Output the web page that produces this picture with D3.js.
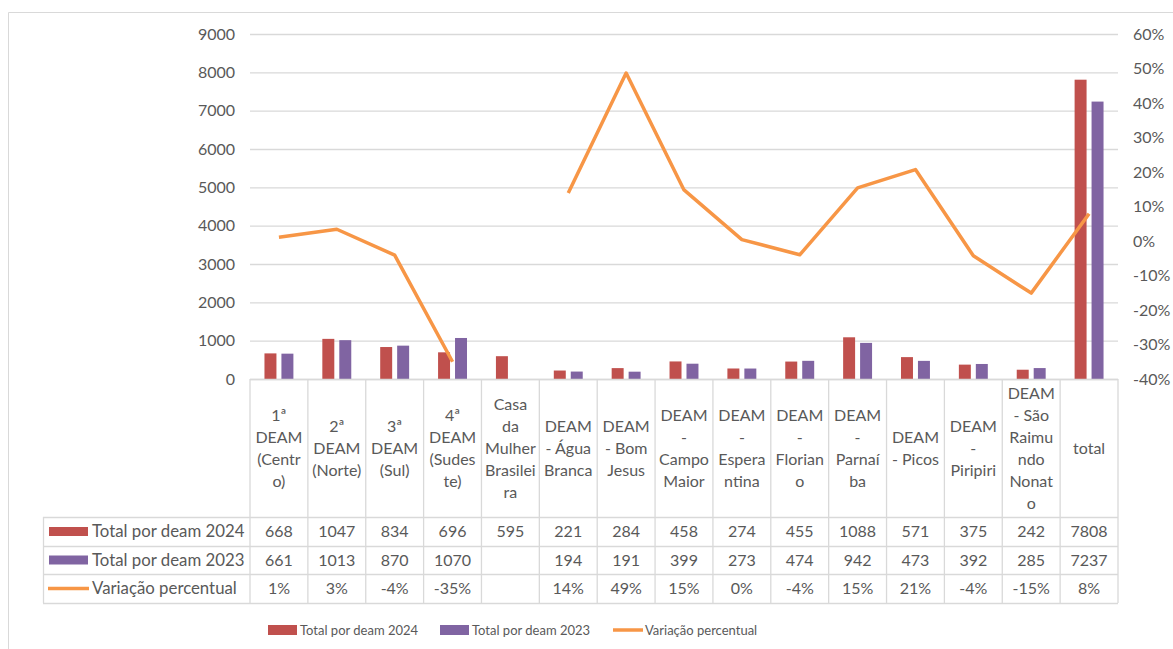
<!DOCTYPE html>
<html>
<head>
<meta charset="utf-8">
<script src="https://cdn.jsdelivr.net/npm/d3@7"></script>
<style>
  html, body { margin: 0; padding: 0; background: #fff; }
  svg { display: block; }
  text { font-family: Lato, "Open Sans", sans-serif; fill: #595959; }
</style>
</head>
<body>
<svg id="chart" width="1173" height="649"></svg>
<script>
// ---------- DATA ----------
const categories = [
  "1ª DEAM (Centro)", "2ª DEAM (Norte)", "3ª DEAM (Sul)", "4ª DEAM (Sudeste)",
  "Casa da Mulher Brasileira", "DEAM - Água Branca", "DEAM - Bom Jesus",
  "DEAM - Campo Maior", "DEAM - Esperantina", "DEAM - Floriano",
  "DEAM - Parnaíba", "DEAM - Picos", "DEAM - Piripiri",
  "DEAM - São Raimundo Nonato", "total"
];
const headerLines = [
  ["1ª","DEAM","(Centr","o)"],
  ["2ª","DEAM","(Norte)"],
  ["3ª","DEAM","(Sul)"],
  ["4ª","DEAM","(Sudes","te)"],
  ["Casa","da","Mulher","Brasilei","ra"],
  ["DEAM","- Água","Branca"],
  ["DEAM","- Bom","Jesus"],
  ["DEAM","-","Campo","Maior"],
  ["DEAM","-","Espera","ntina"],
  ["DEAM","-","Florian","o"],
  ["DEAM","-","Parnaí","ba"],
  ["DEAM","- Picos"],
  ["DEAM","-","Piripiri"],
  ["DEAM","- São","Raimu","ndo","Nonat","o"],
  ["total"]
];
const total2024 = [668, 1047, 834, 696, 595, 221, 284, 458, 274, 455, 1088, 571, 375, 242, 7808];
const total2023 = [661, 1013, 870, 1070, null, 194, 191, 399, 273, 474, 942, 473, 392, 285, 7237];
const variacao  = [0.011, 0.034, -0.041, -0.35, null, 0.139, 0.487, 0.148, 0.004, -0.04, 0.154, 0.207, -0.043, -0.151, 0.079];
const seriesNames = ["Total por deam 2024", "Total por deam 2023", "Variação percentual"];
const leftTicks  = [0,1000,2000,3000,4000,5000,6000,7000,8000,9000];
const rightTicks = [-0.4,-0.3,-0.2,-0.1,0,0.1,0.2,0.3,0.4,0.5,0.6];

// ---------- STYLE ----------
const C24 = "#C0504D", C23 = "#8064A2", CVAR = "#F79646";
const GRID = "#D9D9D9", TXT = "#595959";
const FS = 16;

const svg = d3.select("#chart");
const locale = d3.formatLocale({decimal: ".", thousands: "", grouping: [3], currency: ["", ""], minus: "-"});
const fmtPct = locale.format(".0%");
const fmtInt = locale.format("d");

// outer border (top and left visible)
svg.append("line").attr("x1", 8.5).attr("y1", 12.5).attr("x2", 1173).attr("y2", 12.5).attr("stroke", "#D9D9D9");
svg.append("line").attr("x1", 8.5).attr("y1", 12.5).attr("x2", 8.5).attr("y2", 649).attr("stroke", "#D9D9D9");

const plotL = 250, plotR = 1118, plotT = 34, plotB = 379;
const x = d3.scaleBand().domain(categories).range([plotL, plotR]).paddingInner(0).paddingOuter(0);
const xs = d3.scaleBand().domain(["2024", "2023"]).range([0, x.bandwidth()]).paddingInner(0.294).paddingOuter(0.853);
const yL = d3.scaleLinear().domain([0, 9000]).range([plotB, plotT]);
const yR = d3.scaleLinear().domain([-0.4, 0.6]).range([plotB, plotT]);

// gridlines
const grid = svg.append("g").attr("transform", `translate(${plotL},0)`)
  .call(d3.axisRight(yL).tickValues(leftTicks).tickSize(plotR - plotL).tickFormat(""));
grid.select(".domain").remove();
grid.selectAll("line").attr("stroke", GRID).attr("stroke-width", 1.3);

// left axis
const ax = svg.append("g").attr("transform", `translate(${plotL},0)`)
  .call(d3.axisLeft(yL).tickValues(leftTicks).tickSize(0).tickPadding(15).tickFormat(fmtInt));
ax.select(".domain").remove();
ax.selectAll("text").attr("font-size", FS).attr("font-family", "Lato").attr("fill", TXT);

// right axis
const axr = svg.append("g").attr("transform", `translate(${plotR},0)`)
  .call(d3.axisRight(yR).tickValues(rightTicks).tickSize(0).tickPadding(15).tickFormat(fmtPct));
axr.select(".domain").remove();
axr.selectAll("text").attr("font-size", FS).attr("font-family", "Lato").attr("fill", TXT);

// bars
const barData = [];
categories.forEach((c, i) => {
  if (total2024[i] != null) barData.push({c, k: "2024", v: total2024[i], col: C24});
  if (total2023[i] != null) barData.push({c, k: "2023", v: total2023[i], col: C23});
});
svg.append("g").selectAll("rect").data(barData).join("rect")
  .attr("x", d => x(d.c) + xs(d.k))
  .attr("width", xs.bandwidth())
  .attr("y", d => yL(d.v))
  .attr("height", d => yL(0) - yL(d.v))
  .attr("fill", d => d.col);

// line
const line = d3.line()
  .defined(d => d.v != null)
  .x(d => x(d.c) + x.bandwidth() / 2)
  .y(d => yR(d.v));
svg.append("path")
  .datum(categories.map((c, i) => ({c, v: variacao[i]})))
  .attr("d", line)
  .attr("fill", "none").attr("stroke", CVAR).attr("stroke-width", 3.5)
  .attr("stroke-linejoin", "round");

// ---------- DATA TABLE ----------
const tableL = 43, headerB = 517;
const rowTops = [517, 546, 574, 603];
const tbl = svg.append("g");
tbl.append("line").attr("x1", plotL).attr("x2", plotR).attr("y1", plotB + 0.5).attr("y2", plotB + 0.5).attr("stroke", GRID).attr("stroke-width", 1.3);
rowTops.forEach(y => {
  tbl.append("line").attr("x1", tableL).attr("x2", plotR).attr("y1", y + 0.5).attr("y2", y + 0.5).attr("stroke", GRID).attr("stroke-width", 1.3);
});
const vx = categories.map(c => x(c)).concat([plotR]);
vx.forEach(v => {
  tbl.append("line").attr("x1", v).attr("x2", v).attr("y1", plotB).attr("y2", rowTops[3]).attr("stroke", GRID).attr("stroke-width", 1.3);
});
tbl.append("line").attr("x1", tableL + 0.5).attr("x2", tableL + 0.5).attr("y1", rowTops[0]).attr("y2", rowTops[3]).attr("stroke", GRID).attr("stroke-width", 1.3);

// header text
const lh = 22, hc = (plotB + headerB) / 2;
categories.forEach((c, i) => {
  const lines = headerLines[i];
  const t = tbl.append("text").attr("text-anchor", "middle").attr("font-size", FS)
    .attr("x", x(c) + x.bandwidth() / 2);
  lines.forEach((ln, j) => {
    t.append("tspan").attr("x", x(c) + x.bandwidth() / 2)
      .attr("y", hc + (j - (lines.length - 1) / 2) * lh)
      .attr("dy", "0.35em").text(ln);
  });
});

// row cells
const rows = [
  {vals: total2024, fmt: fmtInt},
  {vals: total2023, fmt: fmtInt},
  {vals: variacao, fmt: fmtPct}
];
rows.forEach((r, ri) => {
  const cy = (rowTops[ri] + rowTops[ri + 1]) / 2;
  categories.forEach((c, i) => {
    const v = r.vals[i];
    if (v == null) return;
    tbl.append("text").attr("x", x(c) + x.bandwidth() / 2).attr("y", cy).attr("dy", "0.35em")
      .attr("text-anchor", "middle").attr("font-size", FS).text(r.fmt(v));
  });
  if (ri < 2) {
    tbl.append("rect").attr("x", 49).attr("y", cy - 4.5).attr("width", 39).attr("height", 9)
      .attr("fill", ri === 0 ? C24 : C23);
  } else {
    tbl.append("line").attr("x1", 48).attr("x2", 89).attr("y1", cy).attr("y2", cy)
      .attr("stroke", CVAR).attr("stroke-width", 3.5);
  }
  tbl.append("text").attr("x", 92).attr("y", cy).attr("dy", "0.35em").attr("font-size", 16.8)
    .text(seriesNames[ri]);
});

// ---------- LEGEND ----------
const leg = svg.append("g");
const legItems = [
  {x: 268, name: seriesNames[0], type: "rect", col: C24},
  {x: 440, name: seriesNames[1], type: "rect", col: C23},
  {x: 613, name: seriesNames[2], type: "line", col: CVAR}
];
const ly = 630;
legItems.forEach(it => {
  if (it.type === "rect") {
    leg.append("rect").attr("x", it.x).attr("y", ly - 5).attr("width", 29).attr("height", 10).attr("fill", it.col);
  } else {
    leg.append("line").attr("x1", it.x).attr("x2", it.x + 30).attr("y1", ly).attr("y2", ly)
      .attr("stroke", it.col).attr("stroke-width", 3.5);
  }
  leg.append("text").attr("x", it.x + 32).attr("y", ly).attr("dy", "0.35em").attr("font-size", 13).text(it.name);
});
</script>
</body>
</html>
